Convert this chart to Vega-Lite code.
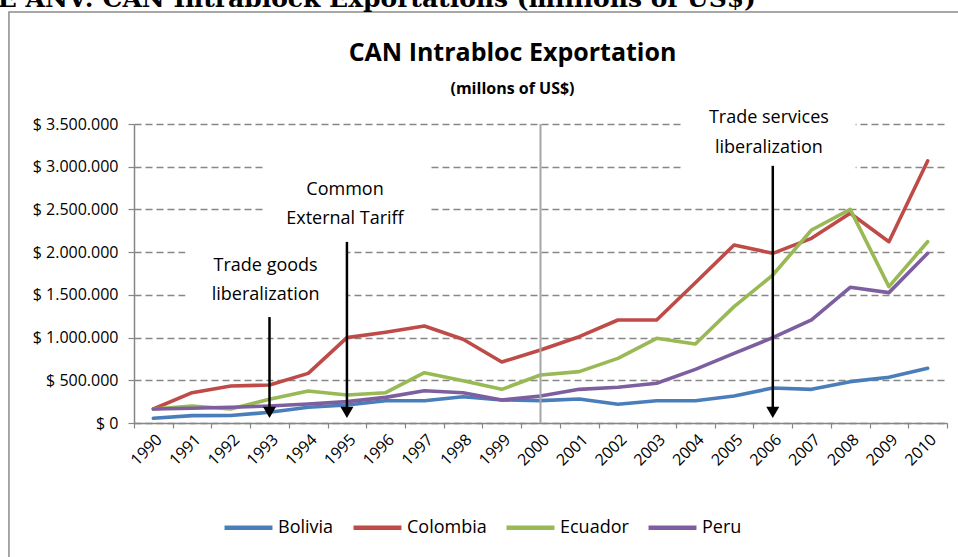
{
  "$schema": "https://vega.github.io/schema/vega-lite/v6.json",
  "autosize": "none",
  "width": 813,
  "height": 299,
  "padding": {"left": 134, "top": 124, "right": 11, "bottom": 134},
  "background": "white",
  "config": {
    "view": {"stroke": null},
    "font": "Open Sans",
    "axis": {"labelFont": "Open Sans", "labelColor": "#000"}
  },
  "title": {
    "text": "CAN Intrabloc Exportation",
    "subtitle": "(millons of US$)",
    "font": "Open Sans",
    "fontSize": 25,
    "fontWeight": "bold",
    "color": "#000",
    "subtitleFont": "Open Sans",
    "subtitleFontSize": 16,
    "subtitleFontWeight": "bold",
    "subtitleColor": "#000",
    "subtitlePadding": 15,
    "anchor": "middle",
    "frame": "group",
    "offset": -110,
    "dx": -28
  },
  "resolve": {"axis": {"x": "independent"}},
  "datasets": {
    "exports": [
      {"year": 1990, "country": "Bolivia", "value": 55000},
      {"year": 1991, "country": "Bolivia", "value": 86000},
      {"year": 1992, "country": "Bolivia", "value": 88000},
      {"year": 1993, "country": "Bolivia", "value": 125000},
      {"year": 1994, "country": "Bolivia", "value": 184000},
      {"year": 1995, "country": "Bolivia", "value": 210000},
      {"year": 1996, "country": "Bolivia", "value": 261000},
      {"year": 1997, "country": "Bolivia", "value": 260000},
      {"year": 1998, "country": "Bolivia", "value": 308000},
      {"year": 1999, "country": "Bolivia", "value": 270000},
      {"year": 2000, "country": "Bolivia", "value": 262000},
      {"year": 2001, "country": "Bolivia", "value": 281000},
      {"year": 2002, "country": "Bolivia", "value": 219000},
      {"year": 2003, "country": "Bolivia", "value": 261000},
      {"year": 2004, "country": "Bolivia", "value": 261000},
      {"year": 2005, "country": "Bolivia", "value": 316000},
      {"year": 2006, "country": "Bolivia", "value": 410000},
      {"year": 2007, "country": "Bolivia", "value": 394000},
      {"year": 2008, "country": "Bolivia", "value": 484000},
      {"year": 2009, "country": "Bolivia", "value": 535000},
      {"year": 2010, "country": "Bolivia", "value": 640000},
      {"year": 1990, "country": "Colombia", "value": 164000},
      {"year": 1991, "country": "Colombia", "value": 355000},
      {"year": 1992, "country": "Colombia", "value": 433000},
      {"year": 1993, "country": "Colombia", "value": 445000},
      {"year": 1994, "country": "Colombia", "value": 581000},
      {"year": 1995, "country": "Colombia", "value": 999000},
      {"year": 1996, "country": "Colombia", "value": 1062000},
      {"year": 1997, "country": "Colombia", "value": 1135000},
      {"year": 1998, "country": "Colombia", "value": 980000},
      {"year": 1999, "country": "Colombia", "value": 714000},
      {"year": 2000, "country": "Colombia", "value": 855000},
      {"year": 2001, "country": "Colombia", "value": 1010000},
      {"year": 2002, "country": "Colombia", "value": 1206000},
      {"year": 2003, "country": "Colombia", "value": 1206000},
      {"year": 2004, "country": "Colombia", "value": 1642000},
      {"year": 2005, "country": "Colombia", "value": 2084000},
      {"year": 2006, "country": "Colombia", "value": 1986000},
      {"year": 2007, "country": "Colombia", "value": 2162000},
      {"year": 2008, "country": "Colombia", "value": 2455000},
      {"year": 2009, "country": "Colombia", "value": 2122000},
      {"year": 2010, "country": "Colombia", "value": 3067000},
      {"year": 1990, "country": "Ecuador", "value": 164000},
      {"year": 1991, "country": "Ecuador", "value": 199000},
      {"year": 1992, "country": "Ecuador", "value": 164000},
      {"year": 1993, "country": "Ecuador", "value": 277000},
      {"year": 1994, "country": "Ecuador", "value": 375000},
      {"year": 1995, "country": "Ecuador", "value": 328000},
      {"year": 1996, "country": "Ecuador", "value": 355000},
      {"year": 1997, "country": "Ecuador", "value": 589000},
      {"year": 1998, "country": "Ecuador", "value": 495000},
      {"year": 1999, "country": "Ecuador", "value": 394000},
      {"year": 2000, "country": "Ecuador", "value": 562000},
      {"year": 2001, "country": "Ecuador", "value": 601000},
      {"year": 2002, "country": "Ecuador", "value": 757000},
      {"year": 2003, "country": "Ecuador", "value": 991000},
      {"year": 2004, "country": "Ecuador", "value": 925000},
      {"year": 2005, "country": "Ecuador", "value": 1362000},
      {"year": 2006, "country": "Ecuador", "value": 1732000},
      {"year": 2007, "country": "Ecuador", "value": 2259000},
      {"year": 2008, "country": "Ecuador", "value": 2501000},
      {"year": 2009, "country": "Ecuador", "value": 1596000},
      {"year": 2010, "country": "Ecuador", "value": 2122000},
      {"year": 1990, "country": "Peru", "value": 164000},
      {"year": 1991, "country": "Peru", "value": 172000},
      {"year": 1992, "country": "Peru", "value": 184000},
      {"year": 1993, "country": "Peru", "value": 199000},
      {"year": 1994, "country": "Peru", "value": 222000},
      {"year": 1995, "country": "Peru", "value": 250000},
      {"year": 1996, "country": "Peru", "value": 300000},
      {"year": 1997, "country": "Peru", "value": 378000},
      {"year": 1998, "country": "Peru", "value": 355000},
      {"year": 1999, "country": "Peru", "value": 269000},
      {"year": 2000, "country": "Peru", "value": 316000},
      {"year": 2001, "country": "Peru", "value": 394000},
      {"year": 2002, "country": "Peru", "value": 418000},
      {"year": 2003, "country": "Peru", "value": 465000},
      {"year": 2004, "country": "Peru", "value": 628000},
      {"year": 2005, "country": "Peru", "value": 816000},
      {"year": 2006, "country": "Peru", "value": 999000},
      {"year": 2007, "country": "Peru", "value": 1206000},
      {"year": 2008, "country": "Peru", "value": 1588000},
      {"year": 2009, "country": "Peru", "value": 1526000},
      {"year": 2010, "country": "Peru", "value": 1986000}
    ],
    "boxes": [
      {"x1": 1990.83, "x2": 1995.0, "y1": 1250000, "y2": 2150000},
      {"x1": 1992.84, "x2": 1997.16, "y1": 2200000, "y2": 3100000},
      {"x1": 2003.7, "x2": 2008.14, "y1": 2850000, "y2": 3750000}
    ],
    "arrows": [
      {"event": "Trade goods liberalization", "year": 1993, "top": 1240000, "bottom": 160000, "tip": 125000},
      {"event": "Common External Tariff", "year": 1995, "top": 2120000, "bottom": 160000, "tip": 125000},
      {"event": "Trade services liberalization", "year": 2006, "top": 3010000, "bottom": 160000, "tip": 125000}
    ],
    "labels": [
      {"line": "Trade goods", "x": 1992.9, "y": 1838000},
      {"line": "liberalization", "x": 1992.9, "y": 1498000},
      {"line": "Common", "x": 1994.95, "y": 2727000},
      {"line": "External Tariff", "x": 1994.95, "y": 2388000},
      {"line": "Trade services", "x": 2005.9, "y": 3570000},
      {"line": "liberalization", "x": 2005.9, "y": 3219000}
    ],
    "one": [{"n": 1}]
  },
  "layer": [
    {
      "data": {"name": "exports"},
      "mark": {"type": "line", "strokeWidth": 3.6, "strokeCap": "round", "strokeJoin": "round"},
      "encoding": {
        "x": {
          "field": "year",
          "type": "quantitative",
          "scale": {"domain": [1989.5, 2010.5], "nice": false, "zero": false},
          "axis": {
            "orient": "bottom",
            "values": [1990, 1991, 1992, 1993, 1994, 1995, 1996, 1997, 1998, 1999, 2000, 2001, 2002, 2003, 2004, 2005, 2006, 2007, 2008, 2009, 2010],
            "format": "d",
            "labelAngle": -45,
            "labelAlign": "right",
            "labelBaseline": "top",
            "labelFontSize": 16,
            "labelPadding": 8,
            "labelFlush": false,
            "labelOverlap": false,
            "labelBound": false,
            "labelSeparation": 0,
            "title": null,
            "grid": false,
            "ticks": false,
            "domainColor": "#868686",
            "domainWidth": 1.5
          }
        },
        "y": {
          "field": "value",
          "type": "quantitative",
          "scale": {"domain": [0, 3500000], "nice": false},
          "axis": {
            "values": [0, 500000, 1000000, 1500000, 2000000, 2500000, 3000000, 3500000],
            "labelExpr": "'$ ' + replace(replace(format(datum.value, ','), ',', '.'), ',', '.')",
            "labelFontSize": 16,
            "labelPadding": 10,
            "title": null,
            "grid": true,
            "gridColor": "#878787",
            "gridDash": [7, 4],
            "gridWidth": 1.3,
            "domainColor": "#868686",
            "domainWidth": 1.5,
            "tickColor": "#868686",
            "tickSize": 6,
            "tickWidth": 1.2
          }
        },
        "color": {
          "field": "country",
          "type": "nominal",
          "scale": {"domain": ["Bolivia", "Colombia", "Ecuador", "Peru"], "range": ["#4A7EBB", "#BE4B48", "#98B954", "#7D5FA0"]},
          "legend": {
            "orient": "none",
            "legendX": 88,
            "legendY": 377,
            "direction": "horizontal",
            "title": null,
            "symbolType": "stroke",
            "symbolStrokeWidth": 4.5,
            "symbolSize": 2300,
            "labelFont": "Open Sans",
            "labelFontSize": 18,
            "labelColor": "#000",
            "labelOffset": 3,
            "columnPadding": 10
          }
        }
      }
    },
    {
      "data": {"name": "one"},
      "mark": {"type": "rect", "filled": false, "stroke": "#8c8c8c", "strokeWidth": 1.5, "clip": false},
      "encoding": {
        "x": {"datum": 1986.27, "type": "quantitative", "axis": null},
        "x2": {"datum": 2013.5},
        "y": {"datum": 4811000, "type": "quantitative"},
        "y2": {"datum": -1700000}
      }
    },
    {
      "data": {"name": "one"},
      "mark": {"type": "text", "text": "E ANV: CAN Intrablock Exportations (millions of US$)", "font": "DejaVu Serif", "fontWeight": "bold", "fontSize": 25, "align": "left", "baseline": "alphabetic", "color": "#000", "clip": false},
      "encoding": {
        "x": {"datum": 1985.98, "type": "quantitative", "axis": null},
        "y": {"datum": 4870000, "type": "quantitative"}
      }
    },
    {
      "data": {"name": "boxes"},
      "mark": {"type": "rect", "fill": "white", "clip": false},
      "encoding": {
        "x": {"field": "x1", "type": "quantitative", "axis": null},
        "x2": {"field": "x2"},
        "y": {"field": "y1", "type": "quantitative"},
        "y2": {"field": "y2"}
      }
    },
    {
      "data": {"name": "one"},
      "mark": {"type": "rule", "color": "#A6A6A6", "strokeWidth": 2},
      "encoding": {
        "x": {
          "datum": 2000,
          "type": "quantitative",
          "axis": {
            "orient": "bottom",
            "values": [1989.5, 1990.5, 1991.5, 1992.5, 1993.5, 1994.5, 1995.5, 1996.5, 1997.5, 1998.5, 1999.5, 2000.5, 2001.5, 2002.5, 2003.5, 2004.5, 2005.5, 2006.5, 2007.5, 2008.5, 2009.5, 2010.5],
            "labels": false,
            "domain": false,
            "grid": false,
            "title": null,
            "ticks": true,
            "tickColor": "#868686",
            "tickSize": 5,
            "tickWidth": 1.2
          }
        }
      }
    },
    {
      "data": {"name": "arrows"},
      "mark": {"type": "rule", "color": "#000", "strokeWidth": 2.5},
      "encoding": {
        "x": {"field": "year", "type": "quantitative", "axis": null},
        "y": {"field": "top", "type": "quantitative"},
        "y2": {"field": "bottom"}
      }
    },
    {
      "data": {"name": "arrows"},
      "mark": {"type": "point", "shape": "triangle-down", "filled": true, "color": "#000", "size": 170, "opacity": 1},
      "encoding": {
        "x": {"field": "year", "type": "quantitative", "axis": null},
        "y": {"field": "tip", "type": "quantitative"}
      }
    },
    {
      "data": {"name": "labels"},
      "mark": {"type": "text", "font": "Open Sans", "fontSize": 18, "color": "#000", "align": "center", "baseline": "middle", "clip": false},
      "encoding": {
        "x": {"field": "x", "type": "quantitative", "axis": null},
        "y": {"field": "y", "type": "quantitative"},
        "text": {"field": "line"}
      }
    }
  ]
}
